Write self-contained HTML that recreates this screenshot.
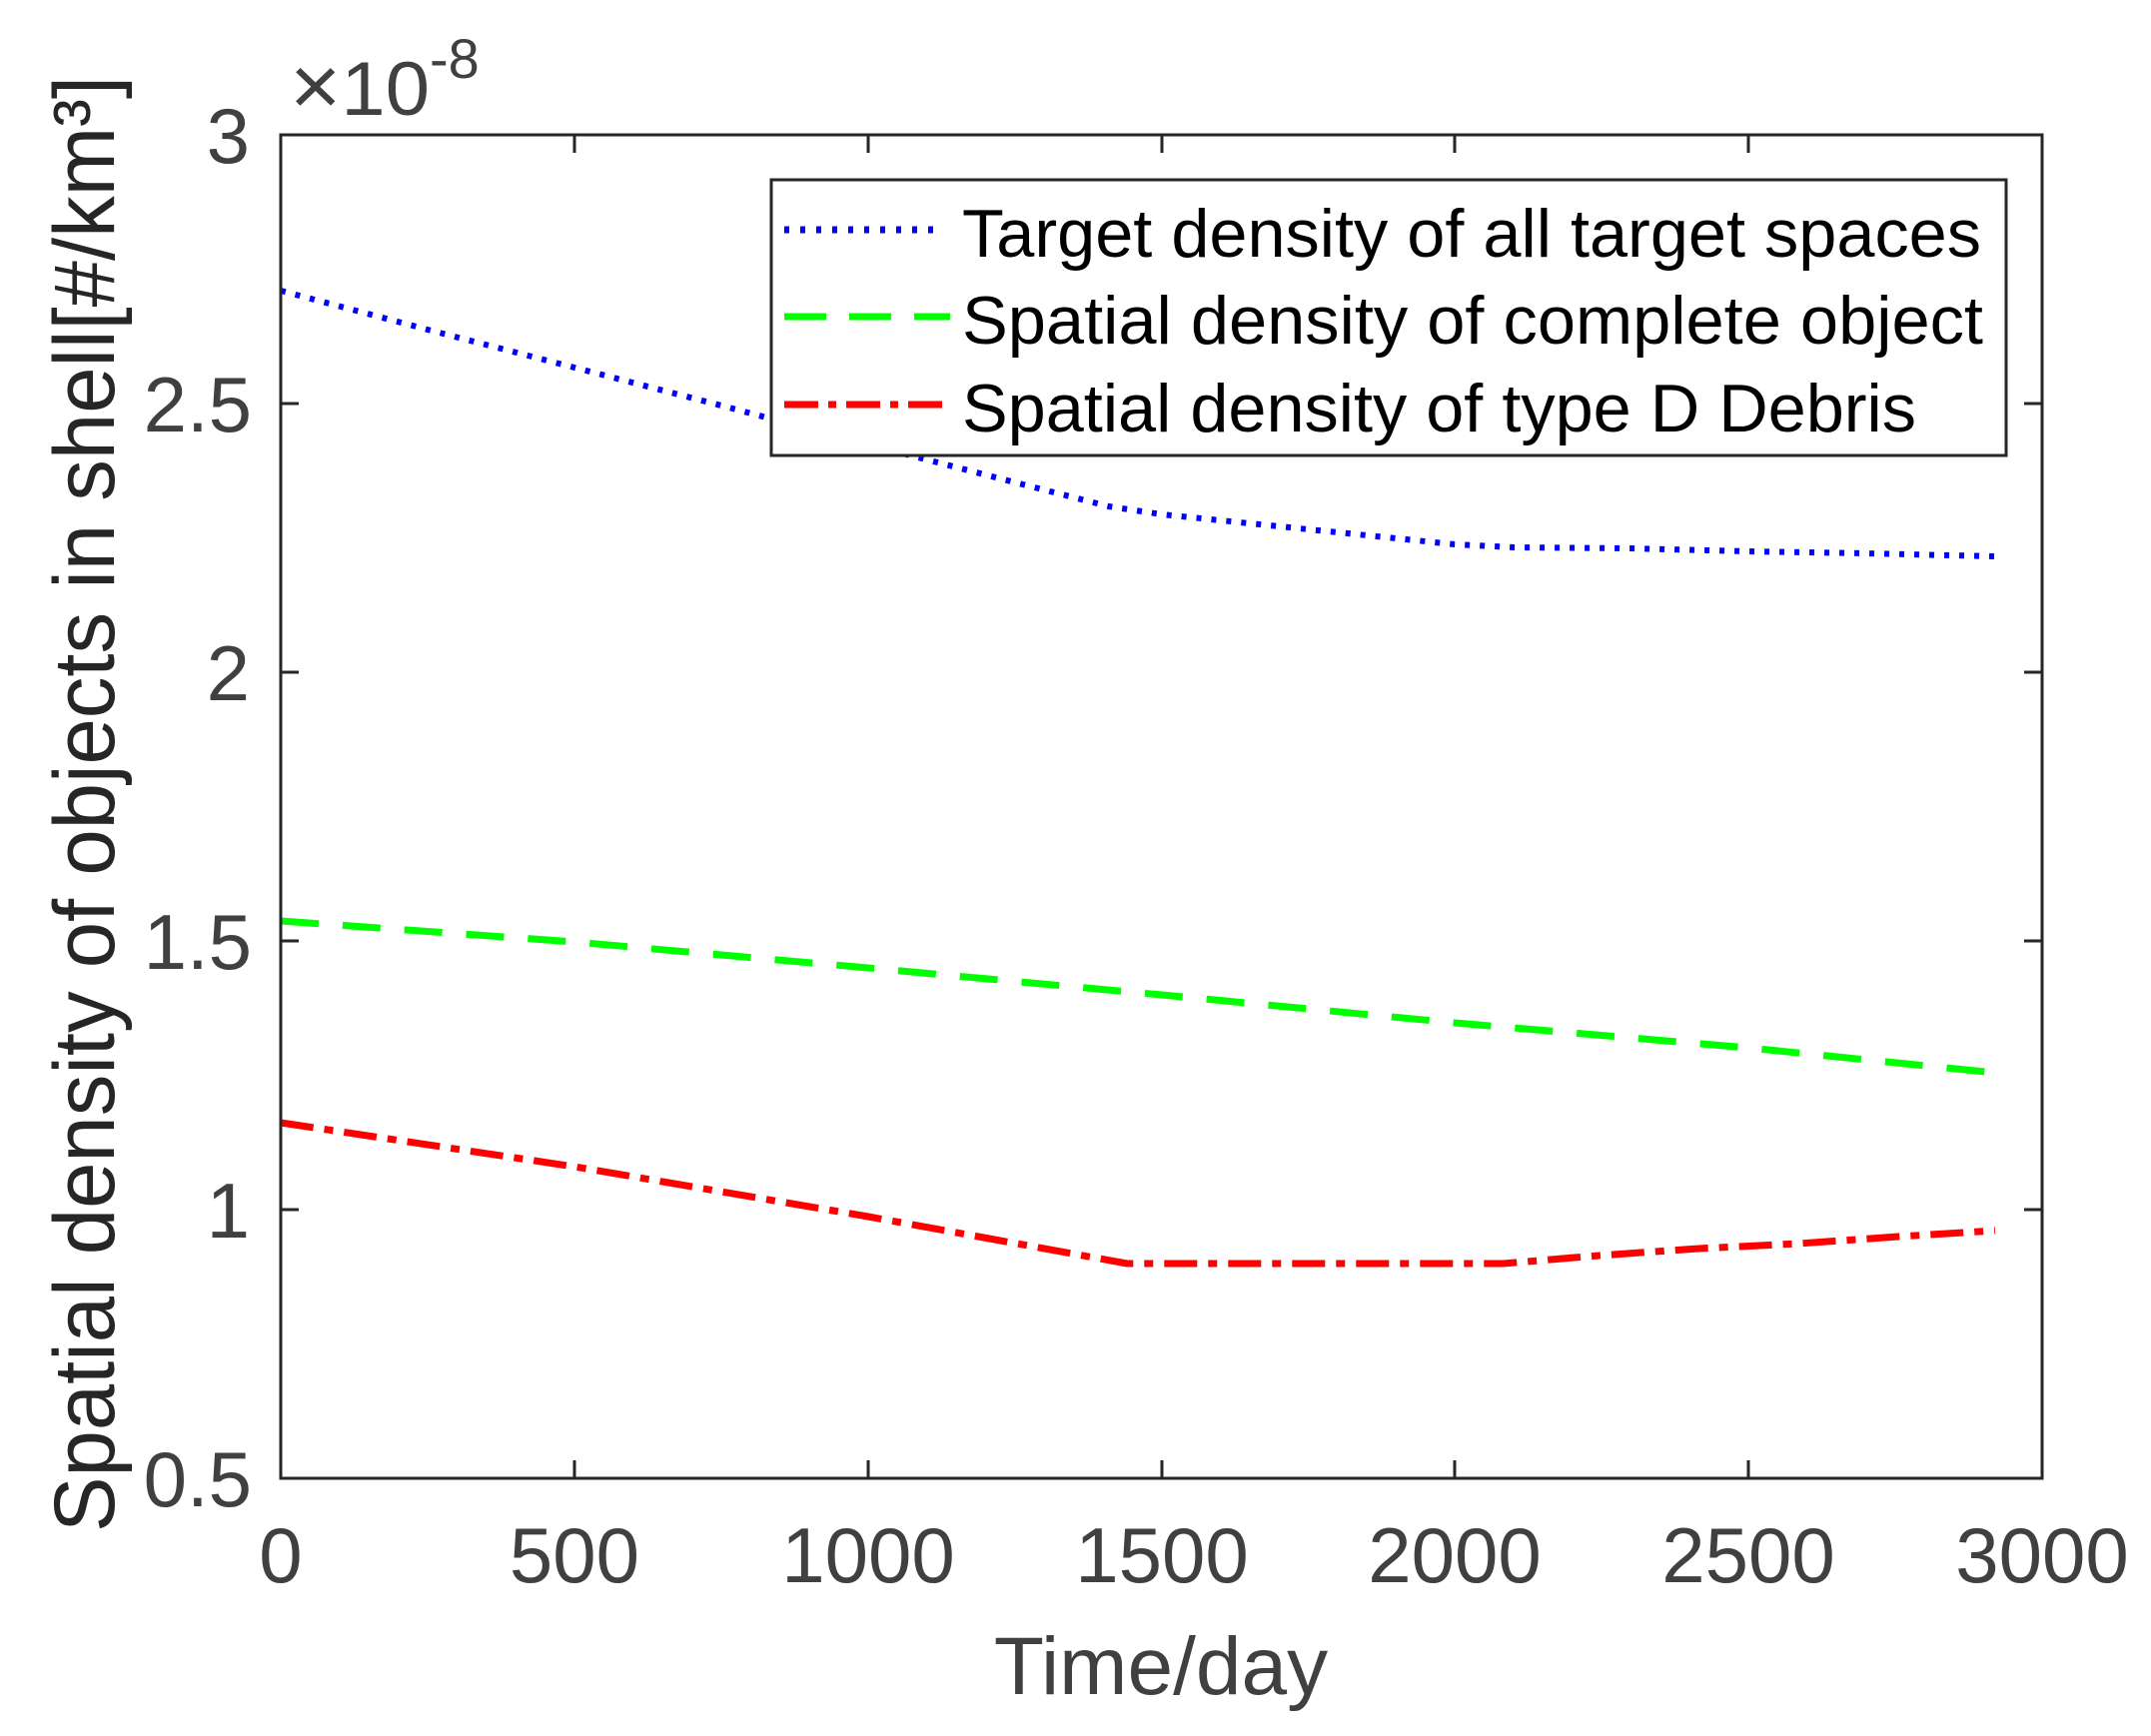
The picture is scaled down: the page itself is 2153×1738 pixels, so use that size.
<!DOCTYPE html>
<html><head><meta charset="utf-8"><style>
html,body{margin:0;padding:0;background:#fff;}
svg{display:block;}
text{font-family:"Liberation Sans",Arial,sans-serif;}
</style></head><body>
<svg width="2153" height="1738" viewBox="0 0 2153 1738" xmlns="http://www.w3.org/2000/svg">
<rect width="2153" height="1738" fill="#fff"/>
<polyline fill="none" stroke="#0000ff" stroke-width="6" stroke-dasharray="5 10" points="281,291 428,330 575,368 722,406 869,445 1016,483 1110,507 1163,515 1310,530 1456,545 1515,548 1633,549 1750,552 1868,554 1997,557"/>
<polyline fill="none" stroke="#00ff00" stroke-width="7" stroke-dasharray="38 24" points="281,922 575,943 869,969 1163,996 1456,1024 1750,1049 1997,1074"/>
<polyline fill="none" stroke="#ff0000" stroke-width="7" stroke-dasharray="33 11 9 11" points="281,1124 575,1168 869,1218 1128,1265 1505,1265 1600,1257 1700,1250 1800,1245 1900,1238 1997,1232"/>
<rect x="281" y="135" width="1763" height="1345" fill="none" stroke="#262626" stroke-width="3"/>
<g stroke="#262626" stroke-width="3">
<line x1="575" y1="1480" x2="575" y2="1462"/><line x1="869" y1="1480" x2="869" y2="1462"/><line x1="1163" y1="1480" x2="1163" y2="1462"/><line x1="1456" y1="1480" x2="1456" y2="1462"/><line x1="1750" y1="1480" x2="1750" y2="1462"/>
<line x1="575" y1="135" x2="575" y2="153"/><line x1="869" y1="135" x2="869" y2="153"/><line x1="1163" y1="135" x2="1163" y2="153"/><line x1="1456" y1="135" x2="1456" y2="153"/><line x1="1750" y1="135" x2="1750" y2="153"/>
<line x1="281" y1="404" x2="299" y2="404"/><line x1="281" y1="673" x2="299" y2="673"/><line x1="281" y1="942" x2="299" y2="942"/><line x1="281" y1="1211" x2="299" y2="1211"/>
<line x1="2044" y1="404" x2="2026" y2="404"/><line x1="2044" y1="673" x2="2026" y2="673"/><line x1="2044" y1="942" x2="2026" y2="942"/><line x1="2044" y1="1211" x2="2026" y2="1211"/>
</g>
<g fill="#404040" font-size="78" text-anchor="end">
<text x="250" y="163">3</text>
<text x="252" y="432">2.5</text>
<text x="250" y="701">2</text>
<text x="252" y="970">1.5</text>
<text x="250" y="1239">1</text>
<text x="252" y="1508">0.5</text>
</g>
<g fill="#404040" font-size="78" text-anchor="middle">
<text x="281" y="1584">0</text>
<text x="575" y="1584">500</text>
<text x="869" y="1584">1000</text>
<text x="1163" y="1584">1500</text>
<text x="1456" y="1584">2000</text>
<text x="1750" y="1584">2500</text>
<text x="2044" y="1584">3000</text>
</g>
<text x="290" y="115" fill="#404040" font-size="76" textLength="140" lengthAdjust="spacingAndGlyphs"><tspan font-size="84">×</tspan>10</text>
<text x="430" y="78" fill="#404040" font-size="56">-8</text>
<text x="1162" y="1696" fill="#404040" font-size="82" text-anchor="middle">Time/day</text>
<text transform="translate(114,805) rotate(-90)" fill="#262626" font-size="86" text-anchor="middle" textLength="1458" lengthAdjust="spacingAndGlyphs">Spatial density of objects in shell[#/km³]</text>
<rect x="772" y="180" width="1236" height="276" fill="#fff" stroke="#262626" stroke-width="3"/>
<line x1="785" y1="230" x2="940" y2="230" stroke="#0000ff" stroke-width="7" stroke-dasharray="5 11"/>
<line x1="785" y1="317" x2="951" y2="317" stroke="#00ff00" stroke-width="7" stroke-dasharray="42 23"/>
<line x1="785" y1="405" x2="951" y2="405" stroke="#ff0000" stroke-width="7" stroke-dasharray="34 10 8 10"/>
<g fill="#000" font-size="68">
<text x="963" y="257" textLength="1020" lengthAdjust="spacingAndGlyphs">Target density of all target spaces</text>
<text x="963" y="344" textLength="1022" lengthAdjust="spacingAndGlyphs">Spatial density of complete object</text>
<text x="963" y="432" textLength="955" lengthAdjust="spacingAndGlyphs">Spatial density of type D Debris</text>
</g>
</svg>
</body></html>
